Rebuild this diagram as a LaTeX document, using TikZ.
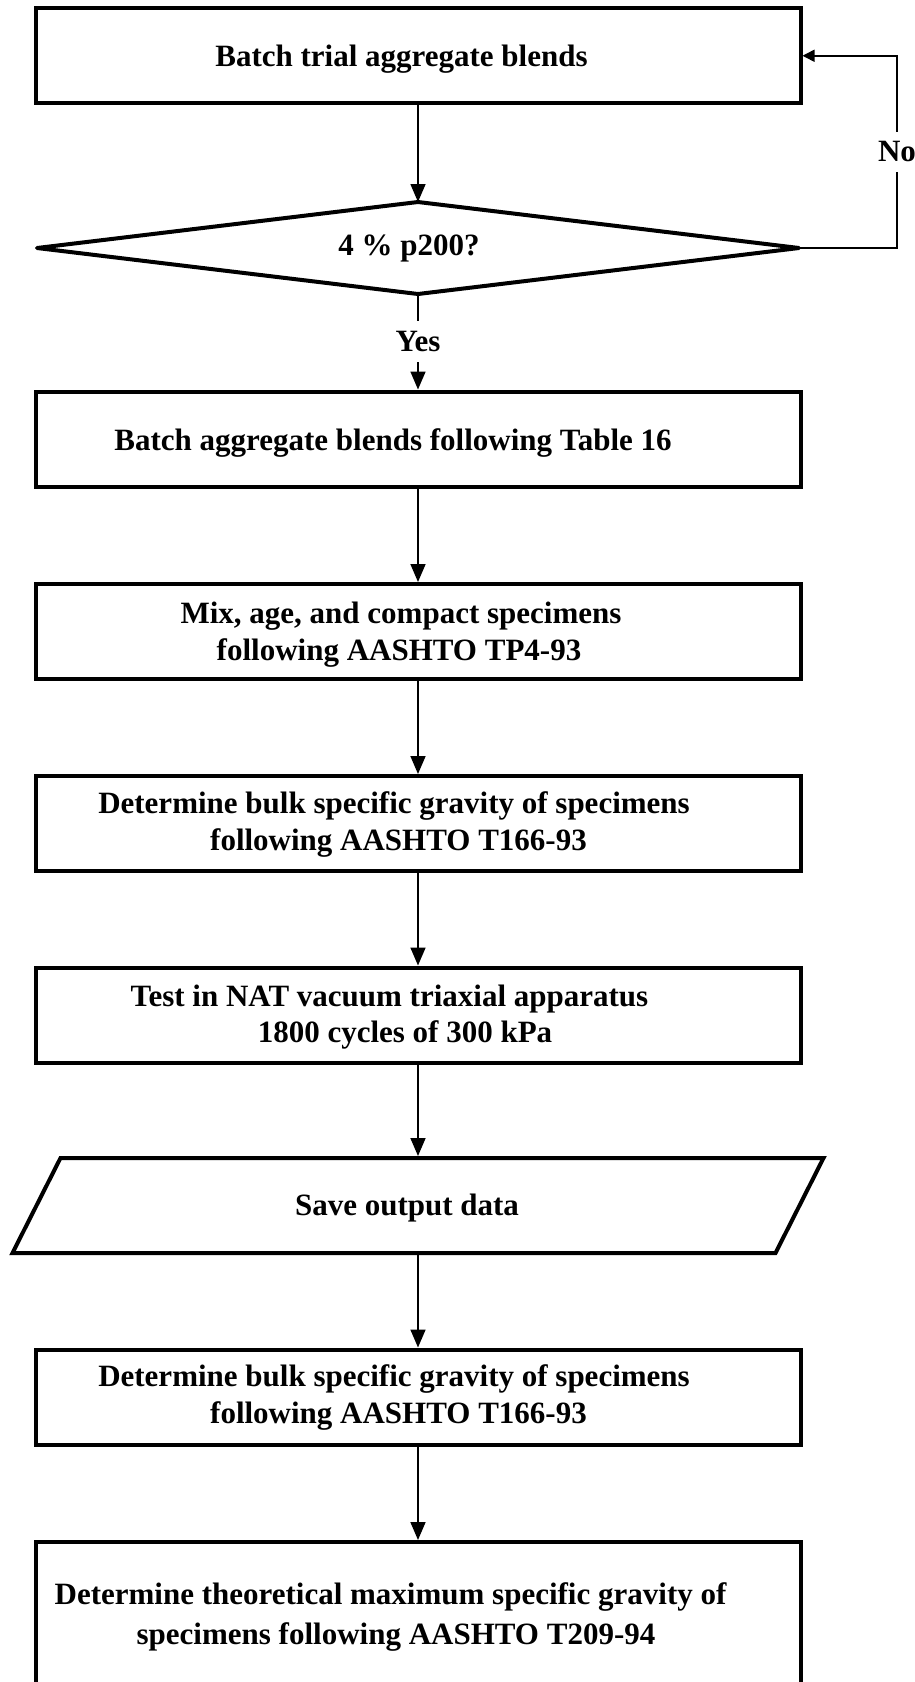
\documentclass[tikz,border=0pt]{standalone}
\usepackage{fontspec}
\setmainfont{Liberation Serif}
\usetikzlibrary{arrows.meta,calc}
\tikzset{
  boxnode/.style={draw, line width=4pt, minimum width=765pt, minimum height=95pt, inner sep=0pt},
  ghost/.style={minimum width=762pt, minimum height=92pt, inner sep=0pt, outer sep=0pt},
  shapeline/.style={line width=4pt, line join=round},
  conn/.style={line width=1.6pt, -{Triangle[length=18pt,width=15pt]}},
  backconn/.style={line width=1.6pt, -{Triangle[length=12pt,width=12pt]}},
  txt/.style={anchor=base, inner sep=0pt, font=\bfseries\fontsize{31pt}{37pt}\selectfont},
  lbl/.style={fill=white, inner xsep=2pt, inner ysep=10pt, font=\bfseries\fontsize{31pt}{37pt}\selectfont}
}
\begin{document}
\begin{tikzpicture}[x=1pt,y=-1pt]
\path[use as bounding box] (0,0) rectangle (915,1682);
\clip (0,0) rectangle (915,1682);

% shapes
\node[boxnode] (b1) at (418,55.75) {};
\node[ghost] (dn) at (418,248) {};
\draw[shapeline] (dn.west) -- (dn.north) -- (dn.east) -- (dn.south) -- cycle;
\node[boxnode] (b3) at (418,439) {};
\node[boxnode] (b4) at (418,631.5) {};
\node[boxnode] (b5) at (418,823.5) {};
\node[boxnode] (b6) at (418,1015) {};
\node[ghost, minimum width=763pt, minimum height=95pt, outer sep=2pt] (io) at (418,1205.5) {};
\draw[line width=4pt, line join=miter]
  ($(io.north west)+(26,2)$) -- ($(io.north east)+(22,2)$) --
  ($(io.south east)+(-26,-2)$) -- ($(io.south west)+(-22,-2)$) -- cycle;
\node[boxnode] (b8) at (418,1397) {};
\node[boxnode, minimum height=150pt] (b9) at (418,1617) {};

% texts
\node[txt] (t1) at (401.5,66) {Batch trial aggregate blends};
\node[txt] (t2) at (409,255) {4 \% p200?};
\node[txt] (t3) at (393,450) {Batch aggregate blends following Table 16};
\node[txt] (t4a) at (401,623) {Mix, age, and compact specimens};
\node[txt] (t4b) at (399,660) {following AASHTO TP4-93};
\node[txt] (t5a) at (394,813) {Determine bulk specific gravity of specimens};
\node[txt] (t5b) at (398.5,850) {following AASHTO T166-93};
\node[txt] (t6a) at (389.5,1006) {Test in NAT vacuum triaxial apparatus};
\node[txt] (t6b) at (405,1042) {1800 cycles of 300 kPa};
\node[txt] (t7) at (407,1215) {Save output data};
\node[txt] (t8a) at (394,1386) {Determine bulk specific gravity of specimens};
\node[txt] (t8b) at (398.5,1423) {following AASHTO T166-93};
\node[txt] (t9a) at (390.5,1604) {Determine theoretical maximum specific gravity of};
\node[txt] (t9b) at (396,1644) {specimens following AASHTO T209-94};

% connectors
\draw[conn] (b1.south) -- (dn.north);
\draw[conn] (dn.south) -- node[lbl] (yes) {Yes} (b3.north);
\draw[conn] (b3.south) -- (b4.north);
\draw[conn] (b4.south) -- (b5.north);
\draw[conn] (b5.south) -- (b6.north);
\draw[conn] (b6.south) -- (io.north);
\draw[conn] (io.south) -- (b8.north);
\draw[conn] (b8.south) -- (b9.north);
\coordinate (nc1) at (897,248);
\coordinate (nc2) at (897,55.75);
\draw[backconn] (dn.east) -- (nc1) -- node[lbl] (no) {No} (nc2) -- (b1.east);
\end{tikzpicture}
\end{document}
